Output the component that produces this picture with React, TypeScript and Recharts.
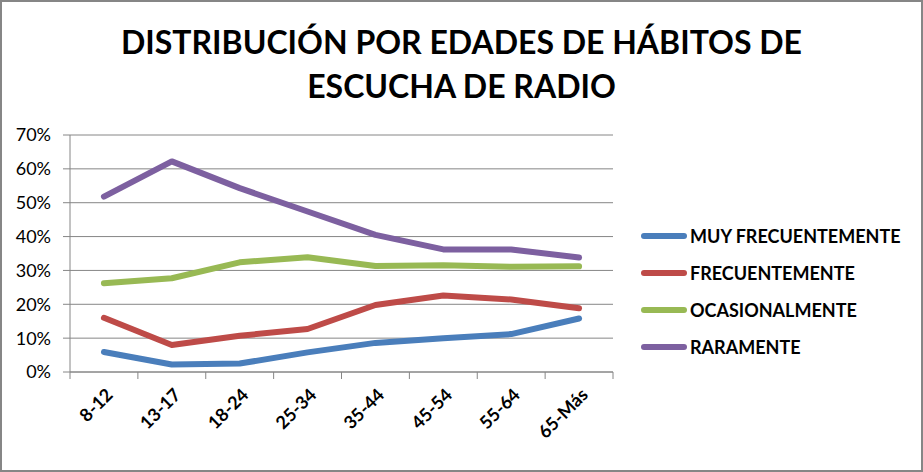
import { LineChart, Line, XAxis, YAxis, CartesianGrid } from 'recharts';

const ageGroups = ['8-12', '13-17', '18-24', '25-34', '35-44', '45-54', '55-64', '65-Más'];
const muyFrecuentemente = [0.059, 0.022, 0.025, 0.058, 0.086, 0.1, 0.112, 0.158];
const frecuentemente = [0.16, 0.08, 0.107, 0.127, 0.198, 0.226, 0.214, 0.188];
const ocasionalmente = [0.262, 0.277, 0.324, 0.339, 0.313, 0.315, 0.311, 0.312];
const raramente = [0.518, 0.622, 0.543, 0.474, 0.405, 0.362, 0.362, 0.338];
const percentTicks = [0, 0.1, 0.2, 0.3, 0.4, 0.5, 0.6, 0.7];

const seriesList = [
  { key: 'muy', name: 'MUY FRECUENTEMENTE', color: '#4A7EBB', values: muyFrecuentemente },
  { key: 'frec', name: 'FRECUENTEMENTE', color: '#BE4B48', values: frecuentemente },
  { key: 'ocas', name: 'OCASIONALMENTE', color: '#98B954', values: ocasionalmente },
  { key: 'rara', name: 'RARAMENTE', color: '#7D60A0', values: raramente },
];

const data = ageGroups.map((group, i) => {
  const row: Record<string, number | string> = { group, pos: i + 0.5 };
  seriesList.forEach(s => { row[s.key] = s.values[i]; });
  return row;
});

const boundaryTicks = ageGroups.map((_, i) => i).concat(ageGroups.length);
const centerTicks = ageGroups.map((_, i) => i + 0.5);

const FONT = 'Lato, "Open Sans", sans-serif';
const GRAY = '#868686';

function AgeTick(props: any) {
  const { x, y, payload } = props;
  const label = ageGroups[Math.floor(payload.value)];
  const ax = x + 10;
  const ay = y + 8;
  return (
    <text
      x={ax}
      y={ay}
      transform={`rotate(-45 ${ax} ${ay})`}
      textAnchor="end"
      fontFamily={FONT}
      fontWeight={700}
      fontSize={18}
      fill="#000"
    >
      {label}
    </text>
  );
}

export default function App() {
  return (
    <div style={{ position: 'relative', width: 923, height: 472, background: '#fff', fontFamily: FONT }}>
      <style>{'body{margin:0}'}</style>
      <div
        style={{
          position: 'absolute', left: 0, top: 0, width: 923, height: 472,
          border: `2px solid ${GRAY}`, boxSizing: 'border-box', pointerEvents: 'none',
        }}
      />
      <div
        style={{
          position: 'absolute', left: 0, top: 20, width: 923, textAlign: 'center',
          fontSize: 32, fontWeight: 700, lineHeight: '44px', color: '#000',
        }}
      >
        DISTRIBUCIÓN POR EDADES DE HÁBITOS DE
        <br />
        ESCUCHA DE RADIO
      </div>
      <LineChart
        width={923}
        height={472}
        data={data}
        margin={{ top: 135, right: 310, bottom: 20, left: 10 }}
      >
        <CartesianGrid vertical={false} stroke={GRAY} strokeWidth={1} />
        <XAxis
          dataKey="pos"
          type="number"
          domain={[0, ageGroups.length]}
          ticks={boundaryTicks}
          tick={() => <g />}
          tickSize={7}
          stroke={GRAY}
          height={8}
          interval={0}
        />
        <XAxis
          xAxisId="labels"
          dataKey="pos"
          type="number"
          domain={[0, ageGroups.length]}
          ticks={centerTicks}
          tick={<AgeTick />}
          axisLine={false}
          tickLine={false}
          height={72}
          interval={0}
        />
        <YAxis
          domain={[0, 0.7]}
          ticks={percentTicks}
          tickFormatter={(v: number) => `${Math.round(v * 100)}%`}
          tick={{ fontSize: 18, fill: '#000', fontFamily: FONT }}
          tickSize={7}
          tickMargin={12}
          stroke={GRAY}
          width={60}
          interval={0}
        />
        {seriesList.map(s => (
          <Line
            key={s.key}
            dataKey={s.key}
            name={s.name}
            stroke={s.color}
            strokeWidth={6}
            strokeLinecap="round"
            strokeLinejoin="round"
            dot={false}
            activeDot={false}
            isAnimationActive={false}
          />
        ))}
      </LineChart>
      <div style={{ position: 'absolute', left: 641, top: 217 }}>
        {seriesList.map(s => (
          <div key={s.key} style={{ display: 'flex', alignItems: 'center', height: 37 }}>
            <div style={{ width: 46, height: 6, borderRadius: 3, background: s.color, marginRight: 3 }} />
            <span style={{ fontSize: 18, fontWeight: 700, color: '#000' }}>{s.name}</span>
          </div>
        ))}
      </div>
    </div>
  );
}
